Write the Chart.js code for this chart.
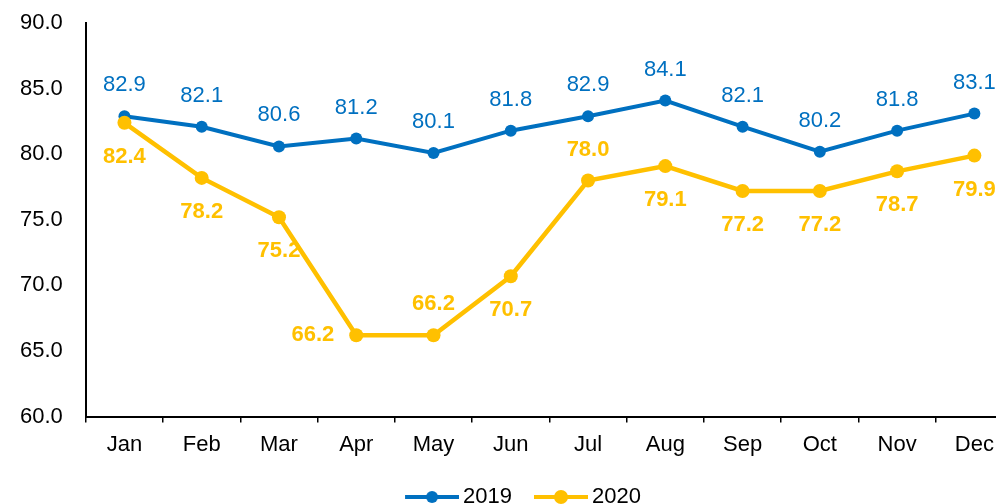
<!DOCTYPE html>
<html>
<head>
<meta charset="utf-8">
<script src="https://cdn.jsdelivr.net/npm/chart.js@4/dist/chart.umd.min.js"></script>
<style>
  html, body { margin: 0; padding: 0; background: #fff; overflow: hidden; }
  #wrap { width: 1020px; height: 504px; }
</style>
</head>
<body>
<div id="wrap"><canvas id="chart"></canvas></div>
<script>
const months = ['Jan', 'Feb', 'Mar', 'Apr', 'May', 'Jun', 'Jul', 'Aug', 'Sep', 'Oct', 'Nov', 'Dec'];
const values2019 = [82.9, 82.1, 80.6, 81.2, 80.1, 81.8, 82.9, 84.1, 82.1, 80.2, 81.8, 83.1];
const values2020 = [82.4, 78.2, 75.2, 66.2, 66.2, 70.7, 78.0, 79.1, 77.2, 77.2, 78.7, 79.9];
const yTicks = [60, 65, 70, 75, 80, 85, 90];

// where each value label sits relative to its point
const place2019 = months.map(() => 'above');
const place2020 = ['below', 'below', 'below', 'left', 'above', 'below', 'above', 'below', 'below', 'below', 'below', 'below'];

const BLUE = '#0070C0';
const YELLOW = '#FFC000';
const FONT = '"Liberation Sans", Arial, sans-serif';

// legend marker: line with a dot, with some blank room on the left for spacing
function legendIcon(color, r) {
    const pad = 10;
    const c = document.createElement('canvas');
    c.width = 54 + pad;
    c.height = 16;
    const g = c.getContext('2d');
    g.strokeStyle = color;
    g.lineWidth = 4;
    g.beginPath();
    g.moveTo(pad, 8);
    g.lineTo(pad + 54, 8);
    g.stroke();
    g.fillStyle = color;
    g.beginPath();
    g.arc(pad + 27, 8, r, 0, Math.PI * 2);
    g.fill();
    return c;
}

const valueLabels = {
    id: 'valueLabels',
    afterLayout(chart) {
        // legend sits a bit right of centre in the original
        chart.legend.left += 14;
        chart.legend.right += 14;
    },
    afterDatasetsDraw(chart) {
        const ctx = chart.ctx;
        chart.data.datasets.forEach((ds, i) => {
            const meta = chart.getDatasetMeta(i);
            const places = ds.labelPlaces;
            ctx.save();
            ctx.fillStyle = ds.borderColor;
            ctx.font = (ds.labelBold ? 'bold ' : '') + '22px ' + FONT;
            ctx.textBaseline = 'middle';
            meta.data.forEach((pt, j) => {
                const txt = ds.data[j].toFixed(1);
                const p = places[j];
                if (p === 'left') {
                    ctx.textAlign = 'right';
                    ctx.fillText(txt, pt.x - 22, pt.y);
                } else {
                    ctx.textAlign = 'center';
                    ctx.fillText(txt, pt.x, p === 'above' ? pt.y - 31 : pt.y + 34);
                }
            });
            ctx.restore();
        });
    }
};

new Chart(document.getElementById('chart'), {
    type: 'line',
    data: {
        labels: months,
        datasets: [
            {
                label: '2019',
                data: values2019,
                borderColor: BLUE,
                backgroundColor: BLUE,
                borderWidth: 4,
                pointRadius: 6,
                pointBackgroundColor: BLUE,
                pointBorderWidth: 0,
                pointStyle: 'circle',
                legendIcon: legendIcon(BLUE, 6),
                labelPlaces: place2019,
                labelBold: false,
                order: 2
            },
            {
                label: '2020',
                data: values2020,
                borderColor: YELLOW,
                backgroundColor: YELLOW,
                borderWidth: 4.5,
                pointRadius: 7,
                pointBackgroundColor: YELLOW,
                pointBorderWidth: 0,
                pointStyle: 'circle',
                legendIcon: legendIcon(YELLOW, 7),
                labelPlaces: place2020,
                labelBold: true,
                order: 1
            }
        ]
    },
    options: {
        responsive: true,
        maintainAspectRatio: false,
        animation: false,
        layout: { padding: { left: -3, right: 2, top: 0, bottom: -14 } },
        plugins: {
            tooltip: { enabled: false },
            legend: {
                position: 'bottom',
                labels: {
                    usePointStyle: true,
                    pointStyleWidth: 50,
                    color: '#000',
                    font: { family: FONT, size: 22 },
                    padding: 19,
                    sort: (a, b) => a.datasetIndex - b.datasetIndex,
                    generateLabels(chart) {
                        return chart.data.datasets.map((ds, i) => ({
                            text: ds.label,
                            pointStyle: ds.legendIcon,
                            fillStyle: ds.borderColor,
                            strokeStyle: ds.borderColor,
                            lineWidth: 0,
                            fontColor: '#000',
                            datasetIndex: i,
                            hidden: false
                        }));
                    }
                }
            }
        },
        scales: {
            x: {
                offset: true,
                grid: {
                    offset: true,
                    drawOnChartArea: false,
                    drawTicks: true,
                    tickLength: 6,
                    color: '#000',
                    lineWidth: 1.5
                },
                border: { display: true, color: '#000', width: 2 },
                ticks: {
                    color: '#000',
                    font: { family: FONT, size: 22 },
                    padding: 9,
                    maxRotation: 0
                }
            },
            y: {
                min: 60,
                max: 90,
                afterBuildTicks(scale) {
                    scale.ticks = yTicks.map(v => ({ value: v }));
                },
                grid: { drawOnChartArea: false, drawTicks: false },
                border: { display: true, color: '#000', width: 2 },
                ticks: {
                    color: '#000',
                    font: { family: FONT, size: 22, lineHeight: 0.01 },
                    padding: 23,
                    callback: v => Number(v).toFixed(1)
                }
            }
        }
    },
    plugins: [valueLabels]
});
</script>
</body>
</html>
